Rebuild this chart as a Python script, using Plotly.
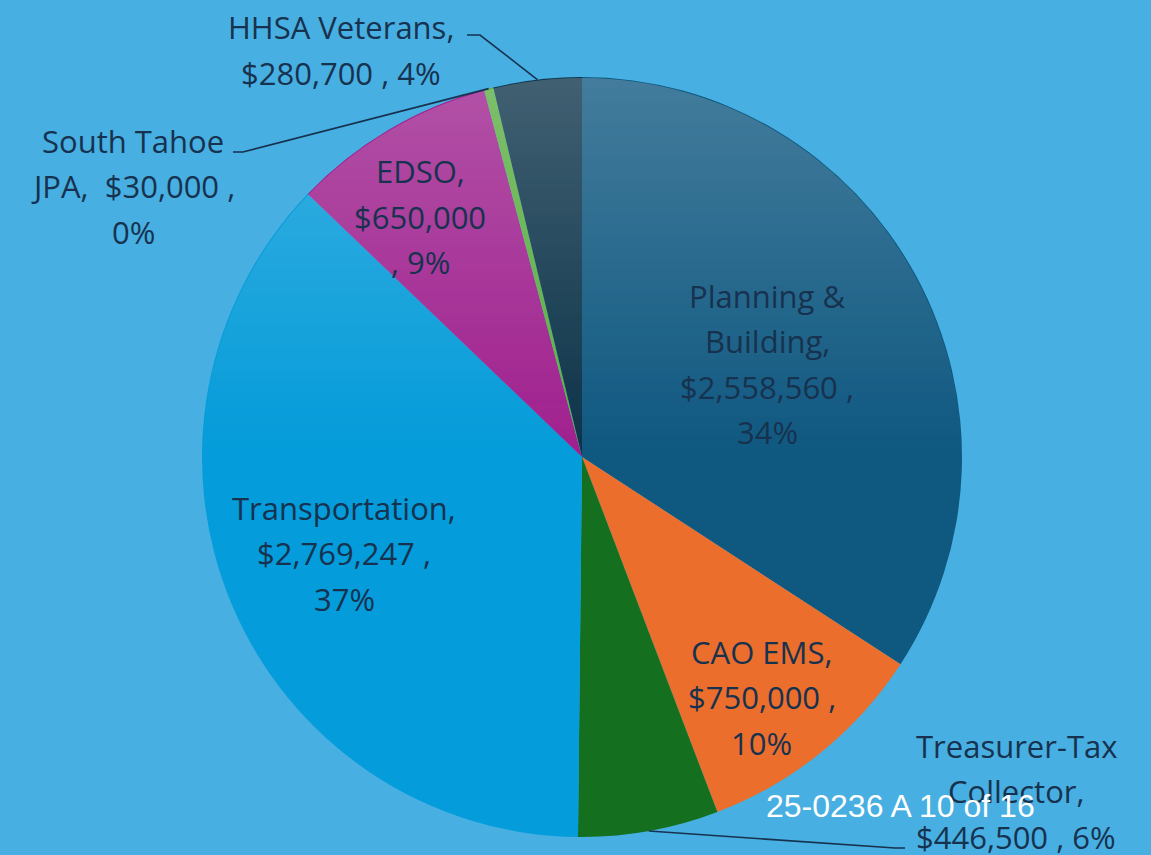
import math
import base64
import struct
import zlib
import numpy as np
import plotly.graph_objects as go

# ---- data ----
labels = ["Planning & Building", "CAO EMS", "Treasurer-Tax Collector", "Transportation",
          "EDSO", "South Tahoe JPA", "HHSA Veterans"]
values = [2558560, 750000, 446500, 2769247, 650000, 30000, 280700]
label_templates = [
    "Planning &|Building,|{v} ,|{p}",
    "CAO EMS,|{v} ,|{p}",
    "Treasurer-Tax|Collector,|{v} , {p}",
    "Transportation,|{v} ,|{p}",
    "EDSO,|{v}|, {p}",
    "South Tahoe|JPA,  {v} ,|{p}",
    "HHSA Veterans,|{v} , {p}",
]
colors = ["#0F5880", "#EB6E2C", "#14701F", "#049CDA", "#A0208E", "#5AB040", "#0C3349"]

# ---- layout constants ----
W, H = 1151, 855
BG = "#47AFE1"
TXT = "#17324F"
FONT = "Open Sans"
FS = 31
LINE_H = 45.5

# pie placement (px)
CX, CY, R = 582, 457, 380

# label placement: inside -> ("in", rfrac, angle delta); outside -> ("out", block center px, leader pts px)
placement = [
    ("in", 0.545, 1.8),
    ("in", 0.79, 2.1),
    ("out", (1016, 791), [(905, 848), (895, 848)]),
    ("in", 0.675, 0.8),
    ("in", 0.762, -3.4),
    ("out", (133, 186), [(233, 152), (243, 152)]),
    ("out", (341, 50), [(467, 35), (480, 35)]),
]


def px2paper(x, y):
    return x / W, 1 - y / H


def shading_png(size, max_alpha=0.24):
    """Soft white sheen over the upper half of the pie (PowerPoint-like gradient)."""
    n = size
    yy, xx = np.mgrid[0:n, 0:n].astype(float)
    c = (n - 1) / 2
    r = n / 2
    dist = np.sqrt((xx - c) ** 2 + (yy - c) ** 2)
    mask = np.clip(r - 0.5 - dist, 0, 1)
    a = max_alpha * np.clip((c - yy) / r, 0, 1) * mask
    rgba = np.zeros((n, n, 4), dtype=np.uint8)
    rgba[..., 0] = 235
    rgba[..., 1] = 240
    rgba[..., 2] = 245
    rgba[..., 3] = (a * 255).round().astype(np.uint8)
    raw = b"".join(b"\x00" + rgba[i].tobytes() for i in range(n))

    def chunk(tag, data):
        return struct.pack(">I", len(data)) + tag + data + struct.pack(">I", zlib.crc32(tag + data) & 0xFFFFFFFF)

    png = b"\x89PNG\r\n\x1a\n" + chunk(b"IHDR", struct.pack(">IIBBBBB", n, n, 8, 6, 0, 0, 0)) \
        + chunk(b"IDAT", zlib.compress(raw, 9)) + chunk(b"IEND", b"")
    return "data:image/png;base64," + base64.b64encode(png).decode()


fig = go.Figure()
x0, y0 = px2paper(CX - R, CY + R)
x1, y1 = px2paper(CX + R, CY - R)
fig.add_trace(go.Pie(
    labels=labels, values=values, sort=False, direction="clockwise", rotation=0,
    marker=dict(colors=colors, line=dict(width=0)),
    textinfo="none", hoverinfo="label+value+percent", showlegend=False,
    domain=dict(x=[x0, x1], y=[y0, y1]),
))

total = sum(values)
annotations = []
shapes = []
cum = 0.0
for i, v in enumerate(values):
    frac = v / total
    a0 = cum * 360
    cum += frac
    a1 = cum * 360
    mid = (a0 + a1) / 2
    pct = f"{round(frac * 100)}%"
    text = label_templates[i].format(v=f"${v:,}", p=pct)
    lines = text.split("|")
    kind = placement[i][0]
    if kind == "in":
        rf, da = placement[i][1], placement[i][2]
        ang = math.radians(mid + da)
        bx = CX + R * rf * math.sin(ang)
        by = CY - R * rf * math.cos(ang)
    else:
        bx, by = placement[i][1]
        pts = placement[i][2]
        ang = math.radians(mid)
        ax_ = CX + R * math.sin(ang)
        ay_ = CY - R * math.cos(ang)
        path_pts = [pts[0], pts[1], (ax_, ay_)]
        d = "M " + " L ".join(f"{px2paper(x, y)[0]},{px2paper(x, y)[1]}" for x, y in path_pts)
        shapes.append(dict(type="path", xref="paper", yref="paper", path=d,
                           line=dict(color=TXT, width=1.6)))
    n = len(lines)
    for j, ln in enumerate(lines):
        ly = by + (j - (n - 1) / 2) * LINE_H
        px_, py_ = px2paper(bx, ly)
        annotations.append(dict(x=px_, y=py_, xref="paper", yref="paper", text=ln,
                                showarrow=False, xanchor="center", yanchor="middle",
                                font=dict(family=FONT, size=FS, color=TXT)))

wx, wy = px2paper(901, 806)
annotations.append(dict(x=wx, y=wy, xref="paper", yref="paper", text="25-0236 A 10 of 16",
                        showarrow=False, xanchor="center", yanchor="middle",
                        font=dict(family="Liberation Sans, Arial", size=32, color="white")))

images = [dict(source=shading_png(2 * R), xref="paper", yref="paper",
               x=x0, y=y1, sizex=x1 - x0, sizey=y1 - y0, xanchor="left", yanchor="top",
               sizing="stretch", layer="above")]

fig.update_layout(
    width=W, height=H, margin=dict(l=0, r=0, t=0, b=0),
    paper_bgcolor=BG, plot_bgcolor=BG,
    annotations=annotations, shapes=shapes, images=images,
)
fig.write_html("out.html", config={"displayModeBar": False},
               post_script="document.body.style.margin='0';document.body.style.overflow='hidden';")
